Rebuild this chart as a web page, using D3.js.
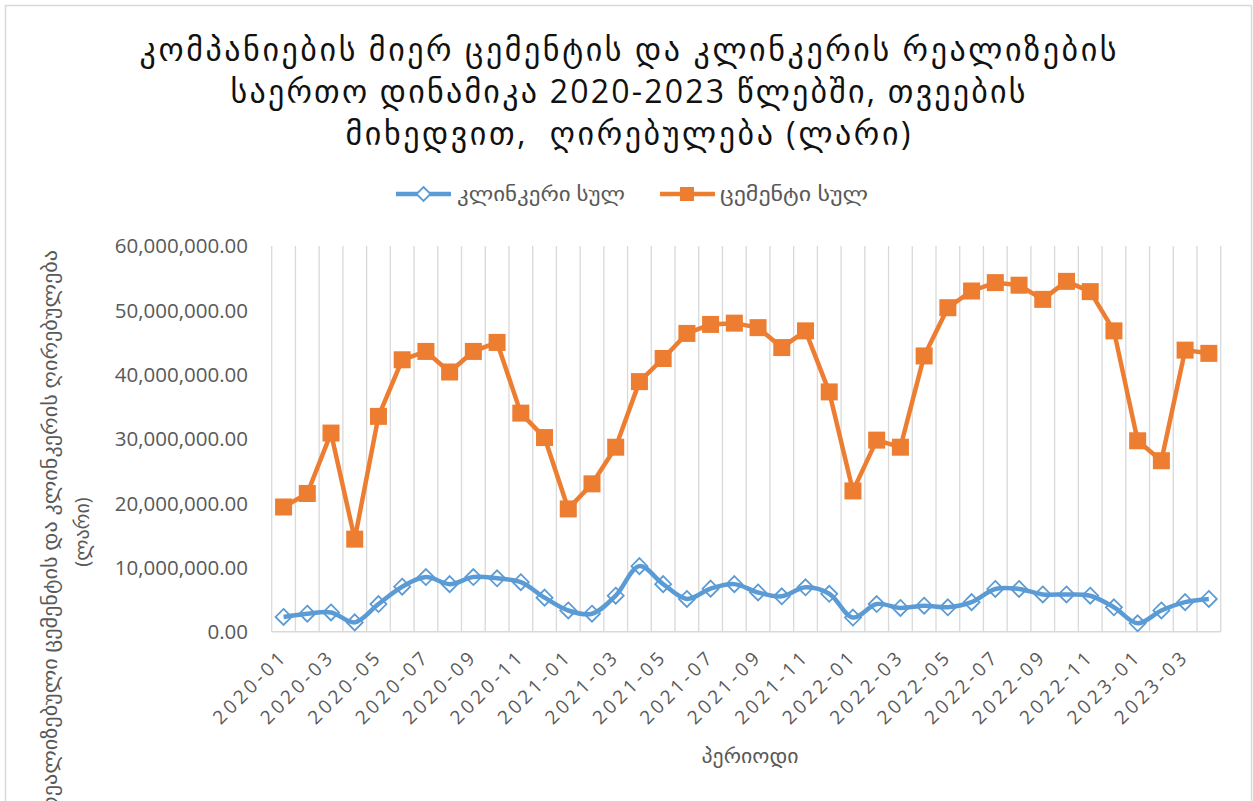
<!DOCTYPE html>
<html>
<head>
<meta charset="utf-8">
<script src="https://cdn.jsdelivr.net/npm/d3@7"></script>
<style>
  body { margin: 0; background: #fff; }
  svg text { font-family: "Open Sans", "DejaVu Sans", sans-serif; white-space: pre; }
</style>
</head>
<body>
<div id="chart"></div>
<script>
const months = [
  '2020-01', '2020-02', '2020-03', '2020-04', '2020-05', '2020-06', '2020-07', '2020-08',
  '2020-09', '2020-10', '2020-11', '2020-12', '2021-01', '2021-02', '2021-03', '2021-04',
  '2021-05', '2021-06', '2021-07', '2021-08', '2021-09', '2021-10', '2021-11', '2021-12',
  '2022-01', '2022-02', '2022-03', '2022-04', '2022-05', '2022-06', '2022-07', '2022-08',
  '2022-09', '2022-10', '2022-11', '2022-12', '2023-01', '2023-02', '2023-03', '2023-04'
];

// clinker total (lari)
const clinkerValues = [
  2300000, 2800000, 3000000, 1450000, 4300000, 7000000, 8500000, 7400000,
  8500000, 8300000, 7700000, 5300000, 3300000, 2800000, 5600000, 10200000,
  7400000, 5100000, 6700000, 7400000, 6100000, 5500000, 6900000, 5900000,
  2200000, 4300000, 3700000, 4050000, 3800000, 4600000, 6650000, 6650000,
  5800000, 5800000, 5600000, 3800000, 1300000, 3300000, 4600000, 5100000
];

// cement total (lari)
const cementValues = [
  19400000, 21500000, 30900000, 14400000, 33500000, 42300000, 43600000, 40400000,
  43600000, 45000000, 34000000, 30200000, 19100000, 23000000, 28700000, 38900000,
  42500000, 46400000, 47800000, 48000000, 47300000, 44200000, 46800000, 37300000,
  21900000, 29800000, 28700000, 42900000, 50400000, 53000000, 54300000, 53900000,
  51700000, 54500000, 52900000, 46800000, 29700000, 26600000, 43800000, 43300000
];

const yTicks = [0, 10000000, 20000000, 30000000, 40000000, 50000000, 60000000];

const titleLines = [
  'კომპანიების მიერ ცემენტის და კლინკერის რეალიზების',
  'საერთო დინამიკა 2020-2023 წლებში, თვეების',
  'მიხედვით,  ღირებულება (ლარი)'
];
const titleWidths = [977, 795, 565];
const clinkerName = 'კლინკერი სულ';
const cementName = 'ცემენტი სულ';
const xTitle = 'პერიოდი';
const yTitleLines = ['რეალიზებული ცემენტის და კლინკერის ღირებულება', '(ლარი)'];

const width = 1253;
const height = 801;
const plot = { left: 271.7, right: 1220.7, top: 246, bottom: 631.7 };
const blue = '#5B9BD5';
const orange = '#ED7D31';
const grey = '#595959';

const svg = d3.select('#chart')
  .append('svg')
  .attr('width', width)
  .attr('height', height);

// chart border
svg.append('rect')
  .attr('x', 5.5).attr('y', 5.5)
  .attr('width', 1246).attr('height', 810)
  .attr('fill', '#fff')
  .attr('stroke', '#d9d9d9')
  .attr('stroke-width', 1.5);

let x = d3.scaleBand().domain(months).range([plot.left, plot.right]).padding(0);
let y = d3.scaleLinear().domain([0, 60000000]).range([plot.bottom, plot.top]);
let cx = (m) => x(m) + x.bandwidth() / 2;

// vertical gridlines on category boundaries
let edges = months.map((m) => x(m)).concat([plot.right]);
svg.append('g')
  .selectAll('line')
  .data(edges)
  .enter()
  .append('line')
  .attr('x1', (d) => d).attr('x2', (d) => d)
  .attr('y1', plot.top).attr('y2', plot.bottom)
  .attr('stroke', '#d9d9d9')
  .attr('stroke-width', 1.3);

// bottom axis line
svg.append('line')
  .attr('x1', plot.left).attr('x2', plot.right)
  .attr('y1', plot.bottom).attr('y2', plot.bottom)
  .attr('stroke', '#d9d9d9')
  .attr('stroke-width', 1.5);

// y tick labels
let fmt = d3.format(',.2f');
svg.append('g')
  .selectAll('text')
  .data(yTicks)
  .enter()
  .append('text')
  .attr('x', 248)
  .attr('y', (d) => y(d))
  .attr('dy', '0.36em')
  .attr('text-anchor', 'end')
  .attr('font-size', 20.5)
  .attr('fill', grey)
  .text((d) => fmt(d));

// x tick labels, every other month
svg.append('g')
  .selectAll('text')
  .data(months.filter((m, i) => i % 2 === 0))
  .enter()
  .append('text')
  .attr('transform', (d) => `translate(${cx(d) + 5},${plot.bottom + 26}) rotate(-45)`)
  .attr('text-anchor', 'end')
  .attr('font-size', 19)
  .attr('letter-spacing', 3.5)
  .attr('fill', grey)
  .text((d) => d);

// axis titles
svg.append('text')
  .attr('x', 750)
  .attr('y', 763)
  .attr('text-anchor', 'middle')
  .attr('font-size', 20)
  .attr('textLength', 97)
  .attr('lengthAdjust', 'spacingAndGlyphs')
  .attr('fill', grey)
  .text(xTitle);

let yTitle = svg.append('text')
  .attr('transform', 'translate(0,532) rotate(-90)')
  .attr('text-anchor', 'middle')
  .attr('font-size', 20)
  .attr('fill', grey);
yTitle.append('tspan').attr('x', 0).attr('y', 57)
  .attr('textLength', 564).attr('lengthAdjust', 'spacingAndGlyphs')
  .text(yTitleLines[0]);
yTitle.append('tspan').attr('x', 0).attr('y', 89)
  .text(yTitleLines[1]);

// title
svg.append('g')
  .selectAll('text')
  .data(titleLines)
  .enter()
  .append('text')
  .attr('x', 628)
  .attr('y', (d, i) => 61 + i * 42)
  .attr('text-anchor', 'middle')
  .attr('font-size', 32)
  .attr('textLength', (d, i) => titleWidths[i])
  .attr('lengthAdjust', 'spacing')
  .attr('fill', '#111')
  .text((d) => d);

// cement line + square markers
let cementLine = d3.line()
  .x((d, i) => cx(months[i]))
  .y((d) => y(d));

svg.append('path')
  .datum(cementValues)
  .attr('d', cementLine)
  .attr('fill', 'none')
  .attr('stroke', orange)
  .attr('stroke-width', 4.5)
  .attr('stroke-linejoin', 'round');

svg.append('g')
  .selectAll('rect')
  .data(cementValues)
  .enter()
  .append('rect')
  .attr('x', (d, i) => cx(months[i]) - 8.5)
  .attr('y', (d) => y(d) - 8.5)
  .attr('width', 17)
  .attr('height', 17)
  .attr('fill', orange);

// clinker smoothed line + hollow diamonds
let clinkerLine = d3.line()
  .x((d, i) => cx(months[i]))
  .y((d) => y(d))
  .curve(d3.curveCatmullRom.alpha(0.5));

svg.append('path')
  .datum(clinkerValues)
  .attr('d', clinkerLine)
  .attr('fill', 'none')
  .attr('stroke', blue)
  .attr('stroke-width', 4.5)
  .attr('stroke-linejoin', 'round');

let diamond = (px, py, r) => `M${px},${py - r}L${px + r},${py}L${px},${py + r}L${px - r},${py}Z`;

svg.append('g')
  .selectAll('path')
  .data(clinkerValues)
  .enter()
  .append('path')
  .attr('d', (d, i) => diamond(cx(months[i]), y(d), 8))
  .attr('fill', 'none')
  .attr('stroke', blue)
  .attr('stroke-width', 1.8);

// legend
let legendY = 194;
let legend = svg.append('g');
legend.append('line')
  .attr('x1', 396).attr('x2', 451).attr('y1', legendY).attr('y2', legendY)
  .attr('stroke', blue).attr('stroke-width', 4.5);
legend.append('path')
  .attr('d', diamond(423.5, legendY, 7))
  .attr('fill', '#fff')
  .attr('stroke', blue)
  .attr('stroke-width', 1.8);
legend.append('text')
  .attr('x', 457).attr('y', legendY).attr('dy', '0.35em')
  .attr('font-size', 20).attr('fill', grey)
  .attr('textLength', 168).attr('lengthAdjust', 'spacingAndGlyphs')
  .text(clinkerName);

legend.append('line')
  .attr('x1', 660).attr('x2', 715).attr('y1', legendY).attr('y2', legendY)
  .attr('stroke', orange).attr('stroke-width', 4.5);
legend.append('rect')
  .attr('x', 680).attr('y', legendY - 7).attr('width', 14).attr('height', 14)
  .attr('fill', orange);
legend.append('text')
  .attr('x', 720).attr('y', legendY).attr('dy', '0.35em')
  .attr('font-size', 20).attr('fill', grey)
  .attr('textLength', 148).attr('lengthAdjust', 'spacingAndGlyphs')
  .text(cementName);
</script>
</body>
</html>
